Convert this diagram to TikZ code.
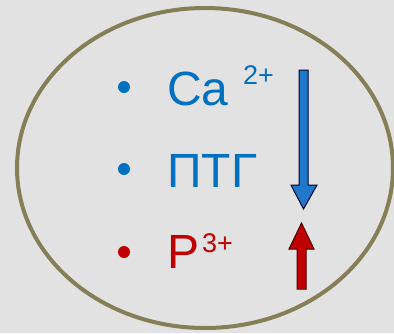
\documentclass[tikz,border=0pt]{standalone}
\usepackage{fontspec}
\setmainfont{Liberation Sans}
\definecolor{bg}{HTML}{E2E2E2}
\definecolor{olive}{HTML}{857F57}
\definecolor{myblue}{HTML}{0070C0}
\definecolor{myred}{HTML}{C00000}
\definecolor{arrblue}{HTML}{1F78C8}
\definecolor{arrred}{HTML}{C00000}
\begin{document}
\begin{tikzpicture}[x=1pt,y=-1pt,
  big/.style={anchor=base west,inner sep=0pt,font=\fontsize{48}{48}\selectfont},
  sup/.style={anchor=base west,inner sep=0pt,font=\fontsize{27}{27}\selectfont},
  bul/.style={circle,inner sep=0pt,minimum size=12pt}]
\useasboundingbox (0,0) rectangle (394,333);
\fill[bg] (0,0) rectangle (394,333);
\draw[olive,line width=4pt] (205,168) ellipse [x radius=188, y radius=160];
% bullets
\node[bul,fill=myblue] (b1) at (124,87) {};
\node[bul,fill=myblue] (b2) at (124,169) {};
\node[bul,fill=myred] (b3) at (124,252) {};
% texts
\node[big,text=myblue] (ca) at (167,105) {Ca};
\node[sup,text=myblue] (ca2) at (243,84) {2+};
\node[big,text=myblue] (ptg) at (167,187) {ПТГ};
\node[big,text=myred] (p) at (167,268) {P};
\node[sup,text=myred] (p3) at (202,252) {3+};
% arrows
\draw[fill=arrblue,draw=black!80!blue,line width=1pt,line join=miter]
  (299,70) -- (308,70) -- (308,185) -- (317,185) -- (303.5,209) -- (291,185) -- (299,185) -- cycle;
\draw[fill=arrred,draw=black!70!red,line width=1pt,line join=miter]
  (297,289) -- (306,289) -- (306,249) -- (314,249) -- (301.5,223) -- (289,249) -- (297,249) -- cycle;
\end{tikzpicture}
\end{document}
